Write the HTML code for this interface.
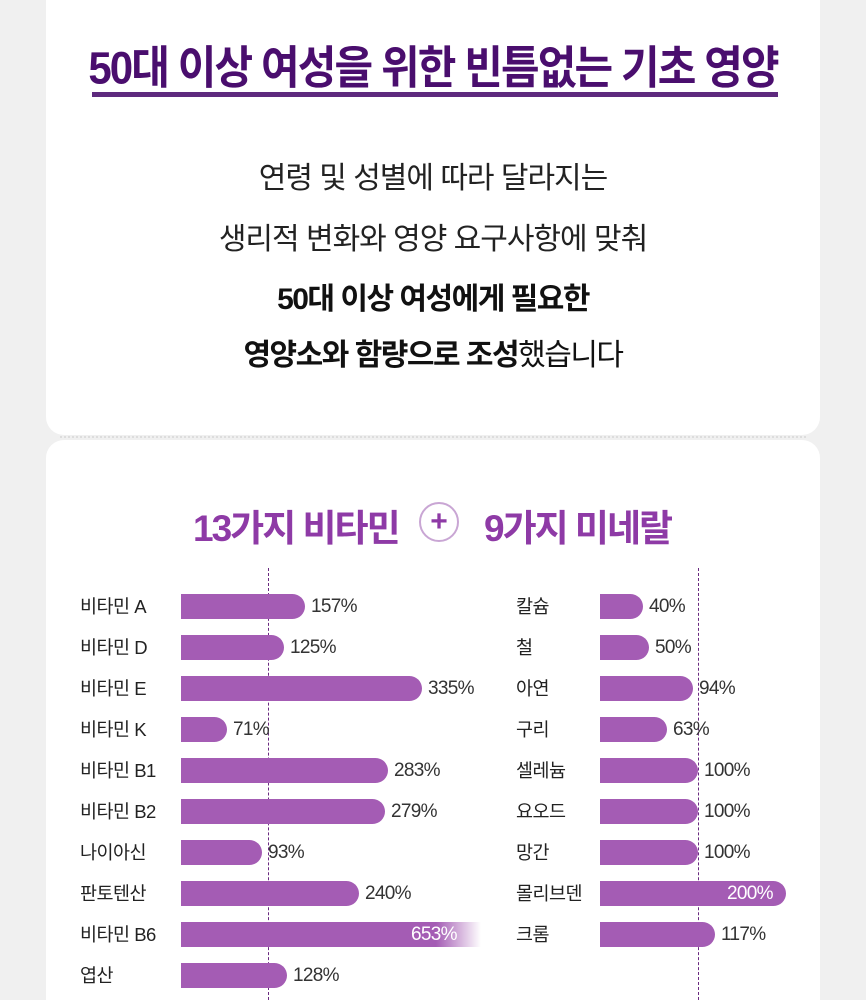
<!DOCTYPE html>
<html><head><meta charset="utf-8"><style>
html,body{margin:0;width:866px;height:1000px;overflow:hidden}
body{background:#f0f0f0;font-family:"Liberation Sans","Noto Sans CJK KR",sans-serif;position:relative}
.card{position:absolute;left:46px;width:774px;background:#fff;border-radius:18px}
.t{position:absolute;white-space:nowrap}
.bar{position:absolute;height:25px;background:#a45cb4;border-radius:0 13px 13px 0}
.lbl{position:absolute;font-size:18.5px;color:#222;letter-spacing:-0.5px;line-height:25px}
.pct{position:absolute;font-size:19px;color:#333;line-height:25px;letter-spacing:-0.7px}
.dash{position:absolute;width:0;border-left:1.5px dashed #6a2a80}
</style></head><body>
<div class="card" style="top:-20px;height:455px"></div>
<div style="position:absolute;left:60px;top:436px;width:746px;border-top:2px dotted #ddd"></div>
<div class="card" style="top:440px;height:580px"></div>
<div class="t" style="left:0;width:866px;text-align:center;top:34px;font-size:42px;font-weight:bold;color:#4a0e6e;letter-spacing:-1.9px;transform:scaleY(1.08)">50대 이상 여성을 위한 빈틈없는 기초 영양</div>
<div style="position:absolute;left:92px;top:92px;width:686px;height:5px;background:#5e2a7e"></div>
<div class="t" style="left:0;width:866px;text-align:center;top:153px;font-size:30px;color:#222;letter-spacing:-1px">연령 및 성별에 따라 달라지는</div>
<div class="t" style="left:0;width:866px;text-align:center;top:214px;font-size:30px;color:#222;letter-spacing:-1px">생리적 변화와 영양 요구사항에 맞춰</div>
<div class="t" style="left:0;width:866px;text-align:center;top:274px;font-size:30px;color:#111;font-weight:bold;letter-spacing:-1.5px">50대 이상 여성에게 필요한</div>
<div class="t" style="left:0;width:866px;text-align:center;top:330px;font-size:30px;color:#111;letter-spacing:-1.5px"><b>영양소와 함량으로 조성</b>했습니다</div>
<div class="t" style="left:193px;top:498px;font-size:37px;font-weight:bold;color:#8e3aa6;letter-spacing:-2px">13가지 비타민</div>
<div style="position:absolute;left:419px;top:502px;width:36px;height:36px;border:2px solid #c9a6d4;border-radius:50%;text-align:center;line-height:36px;font-size:30px;color:#8e3aa6;font-weight:bold">+</div>
<div class="t" style="left:484px;top:498px;font-size:37px;font-weight:bold;color:#8e3aa6;letter-spacing:-2px">9가지 미네랄</div>
<div class="dash" style="left:268px;top:568px;height:432px"></div>
<div class="dash" style="left:698px;top:568px;height:432px"></div>
<div id="c"></div>
<script>
var L=[["비타민 A",305,"157%"],["비타민 D",284,"125%"],["비타민 E",422,"335%"],["비타민 K",227,"71%"],["비타민 B1",388,"283%"],["비타민 B2",385,"279%"],["나이아신",262,"93%"],["판토텐산",359,"240%"],["비타민 B6",480,"653%"],["엽산",287,"128%"]];
var R=[["칼슘",643,"40%"],["철",649,"50%"],["아연",693,"94%"],["구리",667,"63%"],["셀레늄",698,"100%"],["요오드",698,"100%"],["망간",698,"100%"],["몰리브덴",786,"200%"],["크롬",715,"117%"]];
var h="";
L.forEach(function(d,i){var y=594+i*41;h+='<div class="lbl" style="left:80px;top:'+y+'px">'+d[0]+'</div>';
if(i==8){h+='<div class="bar" style="left:181px;top:'+y+'px;width:300px;border-radius:0;background:linear-gradient(90deg,#a45cb4 85%,rgba(164,92,180,0))"></div><div class="pct" style="left:411px;top:'+y+'px;color:#fff">'+d[2]+'</div>';}
else{h+='<div class="bar" style="left:181px;top:'+y+'px;width:'+(d[1]-181)+'px"></div><div class="pct" style="left:'+(d[1]+6)+'px;top:'+y+'px">'+d[2]+'</div>';}});
R.forEach(function(d,i){var y=594+i*41;h+='<div class="lbl" style="left:516px;top:'+y+'px">'+d[0]+'</div><div class="bar" style="left:600px;top:'+y+'px;width:'+(d[1]-600)+'px"></div>';
if(i==7)h+='<div class="pct" style="left:727px;top:'+y+'px;color:#fff">'+d[2]+'</div>';else h+='<div class="pct" style="left:'+(d[1]+6)+'px;top:'+y+'px">'+d[2]+'</div>';});
document.getElementById("c").innerHTML=h;
</script>
</body></html>
